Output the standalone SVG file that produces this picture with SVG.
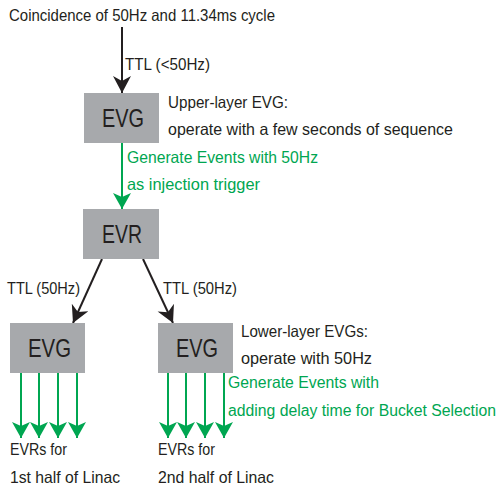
<svg xmlns="http://www.w3.org/2000/svg" width="502" height="489" viewBox="0 0 502 489">
<style>
.box{fill:#a7a9ac}
.t{font-family:"Liberation Sans",Arial,sans-serif;font-size:16.5px;fill:#231f20}
.g{fill:#00a651}
.sm{font-size:15.6px}
.big{font-family:"Liberation Sans",Arial,sans-serif;font-size:25px;fill:#231f20;text-anchor:start}
.k{stroke:#231f20;stroke-width:2;fill:none}
.gl{stroke:#00a651;stroke-width:2;fill:none}
</style>
<defs>
<marker id="ak" markerUnits="userSpaceOnUse" markerWidth="20" markerHeight="20" refX="17" refY="9" orient="auto">
<path d="M0,0 L17,9 L0,18 L5,9 Z" fill="#231f20"/>
</marker>
<marker id="ag" markerUnits="userSpaceOnUse" markerWidth="20" markerHeight="20" refX="16" refY="9" orient="auto">
<path d="M0,0 L16,9 L0,18 L4,9 Z" fill="#00a651"/>
</marker>
</defs>
<text class="t" x="9" y="21" textLength="266" lengthAdjust="spacingAndGlyphs">Coincidence of 50Hz and 11.34ms cycle</text>
<g id="connectors">
<line class="k" x1="122" y1="27" x2="122" y2="93" marker-end="url(#ak)"/>
<line class="gl" x1="122" y1="143" x2="122" y2="209" marker-end="url(#ag)"/>
<line class="k" x1="102" y1="259" x2="73" y2="323" marker-end="url(#ak)"/>
<line class="k" x1="143" y1="259" x2="173" y2="323" marker-end="url(#ak)"/>
<line class="gl" x1="21" y1="373" x2="21" y2="438" marker-end="url(#ag)"/>
<line class="gl" x1="39" y1="373" x2="39" y2="438" marker-end="url(#ag)"/>
<line class="gl" x1="58" y1="373" x2="58" y2="438" marker-end="url(#ag)"/>
<line class="gl" x1="77" y1="373" x2="77" y2="438" marker-end="url(#ag)"/>
<line class="gl" x1="168" y1="373" x2="168" y2="438" marker-end="url(#ag)"/>
<line class="gl" x1="186" y1="373" x2="186" y2="438" marker-end="url(#ag)"/>
<line class="gl" x1="205" y1="373" x2="205" y2="438" marker-end="url(#ag)"/>
<line class="gl" x1="224" y1="373" x2="224" y2="438" marker-end="url(#ag)"/>
<text class="t" x="125" y="70" textLength="85" lengthAdjust="spacingAndGlyphs">TTL (&lt;50Hz)</text>
<text class="t g" x="127" y="163" textLength="191" lengthAdjust="spacingAndGlyphs">Generate Events with 50Hz</text>
<text class="t g" x="127" y="190" textLength="133" lengthAdjust="spacingAndGlyphs">as injection trigger</text>
<text class="t" x="7" y="294" textLength="73" lengthAdjust="spacingAndGlyphs">TTL (50Hz)</text>
<text class="t" x="163" y="294" textLength="74" lengthAdjust="spacingAndGlyphs">TTL (50Hz)</text>
<text class="t g" x="228" y="388" textLength="151" lengthAdjust="spacingAndGlyphs">Generate Events with</text>
<text class="t g sm" x="228" y="416" textLength="268" lengthAdjust="spacingAndGlyphs">adding delay time for Bucket Selection</text>
</g>
<g id="evg-upper">
<rect class="box" x="84" y="93" width="75" height="50"/>
<text class="big" x="102" y="127" textLength="42" lengthAdjust="spacingAndGlyphs">EVG</text>
<text class="t" x="168" y="108" textLength="120" lengthAdjust="spacingAndGlyphs">Upper-layer EVG:</text>
<text class="t" x="168" y="135" textLength="285" lengthAdjust="spacingAndGlyphs">operate with a few seconds of sequence</text>
</g>
<g id="evr">
<rect class="box" x="83" y="209" width="76" height="50"/>
<text class="big" x="102" y="243" textLength="40" lengthAdjust="spacingAndGlyphs">EVR</text>
</g>
<g id="evg-lower-1">
<rect class="box" x="10" y="323" width="75" height="50"/>
<text class="big" x="28" y="357" textLength="43" lengthAdjust="spacingAndGlyphs">EVG</text>
</g>
<g id="evg-lower-2">
<rect class="box" x="158" y="323" width="75" height="50"/>
<text class="big" x="176" y="357" textLength="42" lengthAdjust="spacingAndGlyphs">EVG</text>
<text class="t" x="241" y="337" textLength="127" lengthAdjust="spacingAndGlyphs">Lower-layer EVGs:</text>
<text class="t" x="241" y="364" textLength="131" lengthAdjust="spacingAndGlyphs">operate with 50Hz</text>
</g>
<g id="evrs-1">
<text class="t" x="10" y="455" textLength="57" lengthAdjust="spacingAndGlyphs">EVRs for</text>
<text class="t" x="10" y="483" textLength="110" lengthAdjust="spacingAndGlyphs">1st half of Linac</text>
</g>
<g id="evrs-2">
<text class="t" x="158" y="455" textLength="57" lengthAdjust="spacingAndGlyphs">EVRs for</text>
<text class="t" x="158" y="483" textLength="116" lengthAdjust="spacingAndGlyphs">2nd half of Linac</text>
</g>
</svg>
